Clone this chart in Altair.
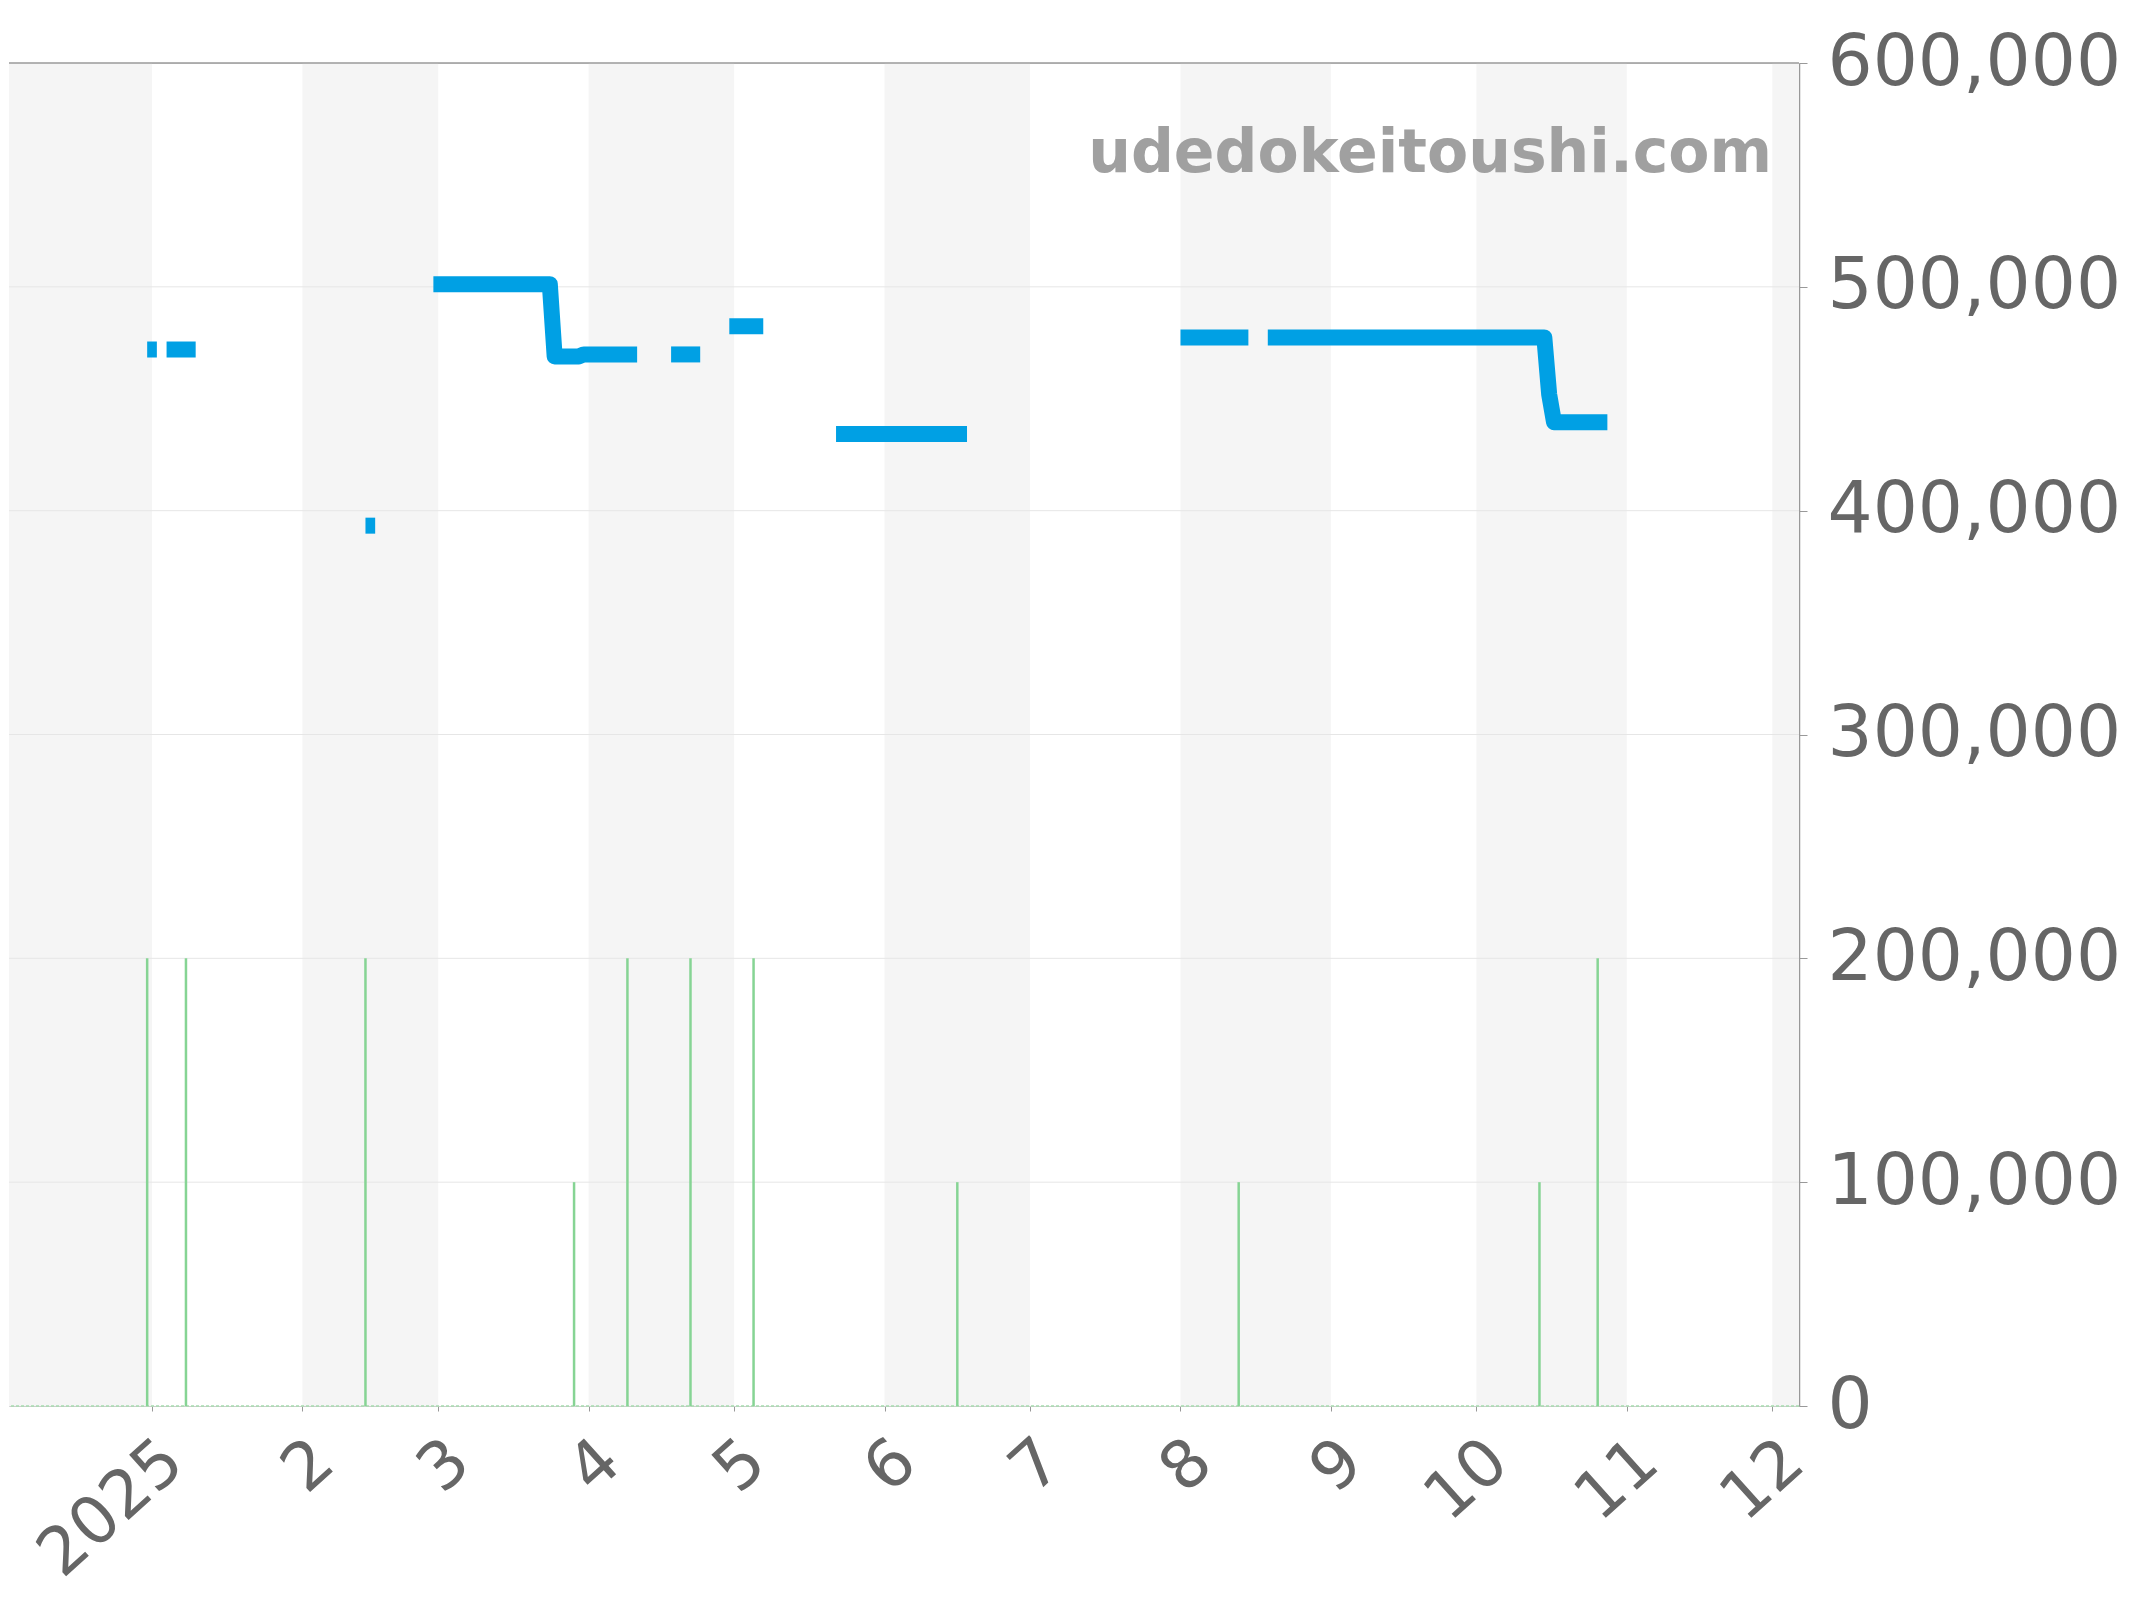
import altair as alt
import pandas as pd

# ---- data ----
price_dates = [
    "2024-12-31", "2025-01-02",
    "2025-01-04", "2025-01-10",
    "2025-02-14", "2025-02-16",
    "2025-02-28", "2025-03-24", "2025-03-25", "2025-03-30", "2025-03-31", "2025-04-11",
    "2025-04-18", "2025-04-24",
    "2025-04-30", "2025-05-07",
    "2025-05-22", "2025-06-18",
    "2025-08-01", "2025-08-15",
    "2025-08-19", "2025-10-15", "2025-10-16", "2025-10-17", "2025-10-28",
]
price_values = [
    472000, 472000,
    472000, 472000,
    393300, 393300,
    501200, 501200, 468900, 468900, 469800, 469800,
    469800, 469800,
    482400, 482400,
    434300, 434300,
    477400, 477400,
    477400, 477400, 452000, 439500, 439500,
]
price_segment = [
    0, 0,
    1, 1,
    2, 2,
    3, 3, 3, 3, 3, 3,
    4, 4,
    5, 5,
    6, 6,
    7, 7,
    8, 8, 8, 8, 8,
]

volume_dates = ["2024-12-31", "2025-01-08", "2025-02-14", "2025-03-29", "2025-04-09",
                "2025-04-22", "2025-05-05", "2025-06-16", "2025-08-13", "2025-10-14",
                "2025-10-26"]
volume_values = [200000, 200000, 200000, 100000, 200000,
                 200000, 200000, 100000, 100000, 100000,
                 200000]

band_starts = ["2024-12-01", "2025-02-01", "2025-04-01", "2025-06-01",
               "2025-08-01", "2025-10-01", "2025-12-01"]
band_ends = ["2025-01-01", "2025-03-01", "2025-05-01", "2025-07-01",
             "2025-09-01", "2025-11-01", "2026-01-01"]

y_ticks = [0, 100000, 200000, 300000, 400000, 500000, 600000]
grid_values = [100000, 200000, 300000, 400000, 500000]
month_ticks = [(2025, m) for m in range(1, 13)]
watermark = ["udedokeitoushi.com"]

x_domain = ["2024-12-02T12:30:00", "2025-12-06T12:00:00"]

W, H = 1790, 1343
FONT = "DejaVu Sans"

def t(s):
    return s + "T00:00:00"

price_df = pd.DataFrame({"date": [t(d) for d in price_dates],
                         "price": price_values, "seg": price_segment})
vol_df = pd.DataFrame({"date": [t(d) for d in volume_dates], "vol": volume_values})
band_df = pd.DataFrame({"start": [t(d) for d in band_starts],
                        "end": [t(d) for d in band_ends]})
grid_df = pd.DataFrame({"g": grid_values})
wm_df = pd.DataFrame({"t": watermark})

xscale = alt.Scale(domain=x_domain)
yscale = alt.Scale(domain=[0, 600000], nice=False, zero=True)

x_axis = alt.Axis(
    values=[alt.DateTime(year=y, month=m, date=1) for y, m in month_ticks],
    labelExpr="month(datum.value) == 0 ? '' + year(datum.value) : '' + (month(datum.value) + 1)",
    labelAngle=-42, labelAlign="right", labelBaseline="top",
    labelFont=FONT, labelFontSize=66, labelColor="#666666", labelPadding=17,
    tickSize=5, tickColor="#999999", domainColor="#cccccc", domainWidth=1,
    grid=False, title=None, labelOverlap=False, labelBound=False, labelFlush=False,
    labelLimit=600,
)
y_axis = alt.Axis(
    orient="right", values=y_ticks, format=",d",
    labelFont=FONT, labelFontSize=71, labelColor="#666666", labelPadding=20,
    tickSize=8, tickColor="#999999", domainColor="#999999", domainWidth=1.5,
    grid=False, title=None, labelOverlap=False, labelFlush=False,
    labelLimit=600,
)

def X(field):
    return alt.X(field, scale=xscale, axis=x_axis)

def Yf(field):
    return alt.Y(field, scale=yscale, axis=y_axis)

def Yd(v):
    return alt.Y(datum=v, type="quantitative", scale=yscale, axis=y_axis)

bands = alt.Chart(band_df).mark_rect(color="#f5f5f5", clip=True).encode(
    x=X("start:T"), x2="end:T", y=Yd(0), y2=alt.datum(600000),
)

grid = alt.Chart(grid_df).mark_rule(color="#e6e6e6", strokeWidth=1).encode(
    y=Yf("g:Q")
)

top_border = alt.Chart(wm_df).mark_rule(color="#9a9a9a", strokeWidth=1.5).encode(
    y=Yd(600000)
)

baseline = alt.Chart(wm_df).mark_rule(color="#a6dcae", strokeWidth=1.5,
                                      strokeDash=[3, 2]).encode(y=Yd(0))

vol = alt.Chart(vol_df).mark_rule(color="#86d494", strokeWidth=2.5).encode(
    x=X("date:T"), y=Yf("vol:Q"), y2=alt.datum(0),
)

line = alt.Chart(price_df).mark_line(
    color="#00a0e4", strokeWidth=16, strokeJoin="round", strokeCap="butt", clip=True
).encode(
    x=X("date:T"), y=Yf("price:Q"), detail="seg:N", order="date:T",
)

wm = alt.Chart(wm_df).mark_text(
    align="right", baseline="alphabetic", font=FONT, fontSize=60,
    fontWeight="bold", color="#a0a0a0"
).encode(x=alt.value(1763), y=alt.value(109), text="t:N")

chart = alt.layer(bands, grid, top_border, baseline, vol, line, wm).properties(
    width=W, height=H,
    padding={"left": 0, "top": 19, "right": 0, "bottom": 0},
).configure_view(strokeWidth=0).configure(background="white")

chart.save("out.html", embed_options={"renderer": "svg", "actions": False})
